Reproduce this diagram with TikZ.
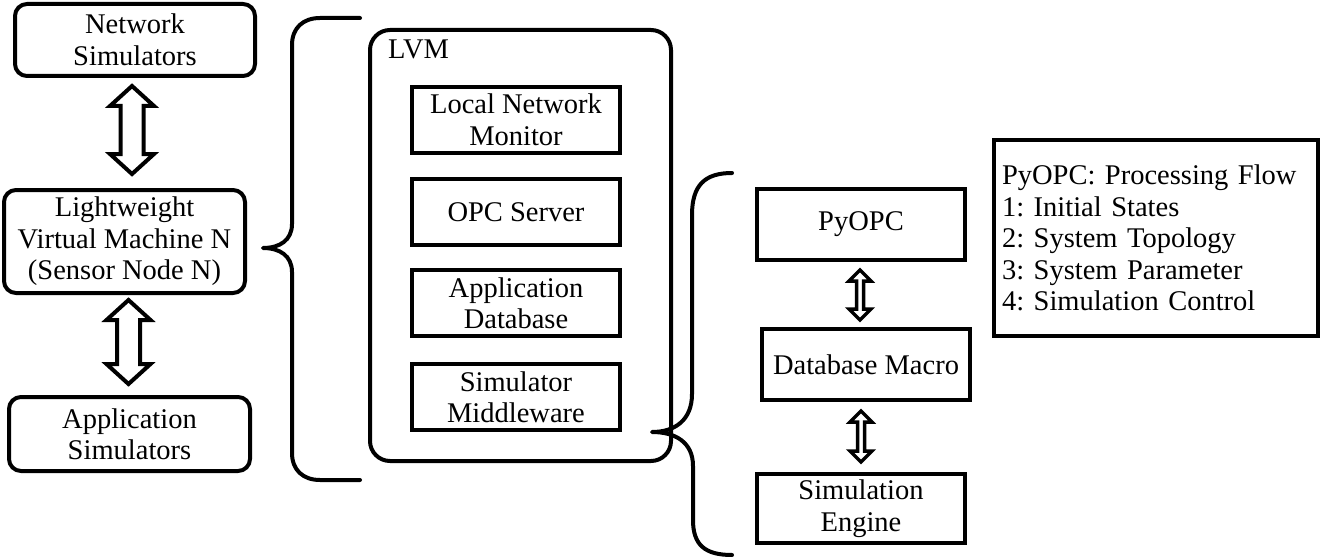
\documentclass[tikz,border=0pt]{standalone}
\usepackage{fontspec}
\setmainfont{Liberation Serif}
\usetikzlibrary{calc}
\frenchspacing
\tikzset{
  rbox/.style={draw, line width=4pt, rounded corners=12pt, align=center, inner sep=0pt},
  sbox/.style={draw, line width=4pt, align=center, inner sep=0pt, minimum width=208pt},
  arrowbody/.style={draw, fill=white, line width=#1, line join=miter},
  arrowbody/.default=4pt,
  bracepath/.style={draw, line width=4pt, line cap=round, line join=round},
}
% #1 top node, #2 bottom node, #3 x shift, #4 top gap, #5 bottom gap, #6 shaft half, #7 head half, #8 head length, #9 line width
\newcommand\dblarr[9]{%
  \draw[arrowbody=#9] let \p1=(#1.south), \p2=(#2.north) in
    (\x1+#3,\y1-#4) -- (\x1+#3+#7,\y1-#4-#8) -- (\x1+#3+#6,\y1-#4-#8)
    -- (\x1+#3+#6,\y2+#5+#8) -- (\x1+#3+#7,\y2+#5+#8) -- (\x1+#3,\y2+#5)
    -- (\x1+#3-#7,\y2+#5+#8) -- (\x1+#3-#6,\y2+#5+#8)
    -- (\x1+#3-#6,\y1-#4-#8) -- (\x1+#3-#7,\y1-#4-#8) -- cycle;}
\begin{document}
\begin{tikzpicture}[x=1pt, y=-1pt, font=\fontsize{28.5}{31.5}\selectfont]
\useasboundingbox (0,0) rectangle (1322,559);

% left column
\node[rbox, minimum width=240pt, minimum height=72pt] (ns) at (135,40) {Network\\Simulators};
\node[rbox, minimum width=241pt, minimum height=103pt] (lw) at (124.5,241.5) {Lightweight\\Virtual Machine N\\(Sensor Node N)};
\node[rbox, minimum width=241pt, minimum height=74pt] (as) at (129.5,434) {Application\\Simulators};

\dblarr{ns}{lw}{-3pt}{8pt}{14pt}{11.5pt}{22pt}{20pt}{4pt}
\dblarr{lw}{as}{4pt}{5pt}{11pt}{11.5pt}{22pt}{20pt}{4pt}

% brace 1
\draw[bracepath] (360,18) -- (320,18) .. controls (303,18) and (292,28) .. (292,45)
  -- (292,224) .. controls (292,240) and (280,248) .. (263,248)
  .. controls (280,248) and (292,256) .. (292,272)
  -- (292,453) .. controls (292,470) and (303,480) .. (320,480) -- (360,480);

% LVM
\node[rbox, rounded corners=20pt, minimum width=301pt, minimum height=431pt] (lvm) at (520.5,245.5) {};
\node[anchor=west, inner sep=0pt] (lvmlabel) at ($(lvm.north west)+(20pt,-21pt)$) {LVM};
\node[sbox, minimum height=66pt] (lnm) at (516,120) {Local Network\\Monitor};
\node[sbox, minimum height=66pt] (opc) at (516,212) {OPC Server};
\node[sbox, minimum height=66pt] (adb) at (516,303) {Application\\Database};
\node[sbox, minimum height=66pt] (smw) at (516,397) {Simulator\\Middleware};

% brace 2
\draw[bracepath] (732,173) .. controls (705,173) and (692,185) .. (692,215)
  -- (692,394) .. controls (692,420) and (675,432) .. (652,432)
  .. controls (675,432) and (693,442) .. (693,466)
  -- (693,520) .. controls (693,545) and (705,555) .. (732,555);

% right column
\node[sbox, minimum height=71pt] (py) at (861,224.5) {PyOPC};
\node[sbox, minimum height=71pt] (dbm) at (866,364.5) {Database Macro};
\node[sbox, minimum height=69pt] (se) at (861,508.5) {Simulation\\Engine};

\dblarr{py}{dbm}{-1pt}{8pt}{7pt}{3.5pt}{11pt}{11pt}{3.5pt}
\dblarr{dbm}{se}{-5pt}{9pt}{10pt}{3.5pt}{11pt}{11pt}{3.5pt}

% legend
\node[draw, line width=3.5pt, text width=308pt, inner xsep=8pt, inner ysep=0pt, minimum height=196pt, align=left] (legend) at (1156,238)
  {PyOPC: Processing Flow\\1: Initial States\\2: System Topology\\3: System Parameter\\4: Simulation Control};
\end{tikzpicture}
\end{document}
